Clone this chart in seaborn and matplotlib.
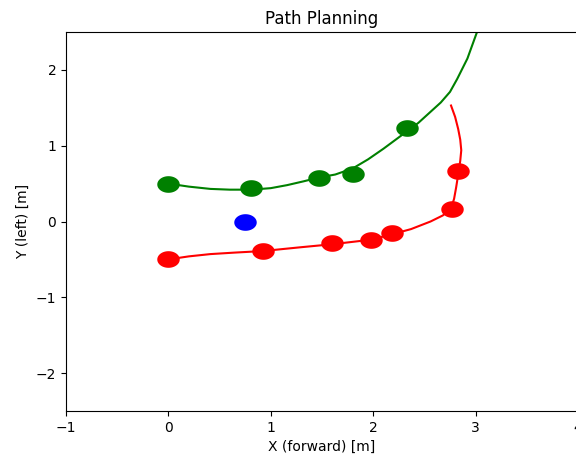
import numpy as np
import matplotlib
matplotlib.use("Agg")
import matplotlib.pyplot as plt
from matplotlib.path import Path
import seaborn as sns

# path curves
left_x = [0.0, 0.20, 0.41, 0.60, 0.81, 1.00, 1.16, 1.32, 1.47, 1.63, 1.80, 1.95, 2.10, 2.25, 2.44,
          2.66, 2.75, 2.82, 2.92, 3.03]
left_y = [0.50, 0.46, 0.43, 0.42, 0.42, 0.44, 0.48, 0.53, 0.58, 0.62, 0.70, 0.82, 0.96, 1.11, 1.30,
          1.57, 1.71, 1.88, 2.15, 2.56]
right_x = [0.0, 0.20, 0.41, 0.65, 0.92, 1.29, 1.60, 1.98, 2.18, 2.37, 2.56, 2.68, 2.76, 2.79, 2.81,
           2.83, 2.85, 2.86, 2.85, 2.83, 2.80, 2.76]
right_y = [-0.50, -0.46, -0.43, -0.41, -0.39, -0.34, -0.30, -0.24, -0.17, -0.10, 0.0, 0.08, 0.17, 0.30, 0.45,
           0.62, 0.80, 0.94, 1.08, 1.22, 1.38, 1.53]

# cones / obstacles
green_x = [0.0, 0.81, 1.47, 1.80, 2.33]
green_y = [0.50, 0.44, 0.58, 0.63, 1.23]
red_x = [0.0, 0.92, 1.60, 1.98, 2.18, 2.77, 2.83]
red_y = [-0.50, -0.39, -0.29, -0.25, -0.15, 0.17, 0.67]
car_x = [0.75]
car_y = [0.0]

# ellipse marker (circles look squashed since the axes aren't equal)
t = np.linspace(0, 2 * np.pi, 60)
ell = Path(np.column_stack([np.cos(t), 0.74 * np.sin(t)]), closed=True)

fig = plt.figure(figsize=(5.76, 4.58), dpi=100)
ax = fig.add_axes([66 / 576, 47 / 458, 512 / 576, 379 / 458])

sns.lineplot(x=left_x, y=left_y, sort=False, estimator=None, color="green", lw=1.5, ax=ax)
sns.lineplot(x=right_x, y=right_y, sort=False, estimator=None, color="red", lw=1.5, ax=ax)

sns.scatterplot(x=green_x, y=green_y, color="green", marker=ell, s=262, linewidth=0, zorder=3, ax=ax)
sns.scatterplot(x=red_x, y=red_y, color="red", marker=ell, s=262, linewidth=0, zorder=3, ax=ax)
sns.scatterplot(x=car_x, y=car_y, color="blue", marker=ell, s=262, linewidth=0, zorder=3, ax=ax)

ax.set_xlim(-1, 4)
ax.set_ylim(-2.5, 2.5)
ax.set_title("Path Planning")
ax.set_xlabel("X (forward) [m]")
ax.set_ylabel("Y (left) [m]")

fig.savefig("out.png", dpi=100)
